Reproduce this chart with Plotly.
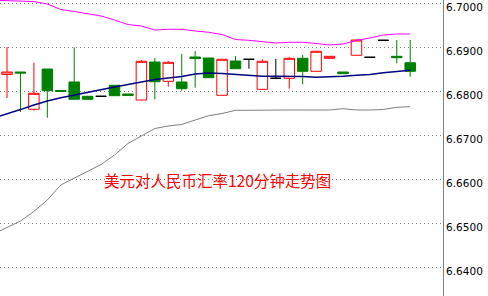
import plotly.graph_objects as go

# ---- data ----
candle_idx = list(range(31))
opens = [6.68379, 6.68435, 6.67590, 6.68503, 6.68016, 6.68209, 6.67884, 6.67884, 6.68134, 6.67937,
         6.67800, 6.68662, 6.68224, 6.68209, 6.68776, 6.68753, 6.67907, 6.68685, 6.68723, 6.68043,
         6.68293, 6.68293, 6.68746, 6.68451, 6.68746, 6.68435, 6.68814, 6.68769, 6.69154, 6.68791,
         6.68646]
closes = [6.68435, 6.68413, 6.67952, 6.68011, 6.67993, 6.67816, 6.67816, 6.67884, 6.67898, 6.67902,
          6.68678, 6.68215, 6.68655, 6.68057, 6.68741, 6.68306, 6.68723, 6.68510, 6.68723, 6.68678,
          6.68293, 6.68746, 6.68451, 6.68905, 6.68791, 6.68397, 6.69161, 6.68769, 6.69154, 6.68760,
          6.68451]
highs = [6.69002, 6.68435, 6.68646, 6.68503, 6.68016, 6.68995, 6.67884, 6.67884, 6.68134, 6.67937,
         6.68707, 6.68753, 6.68685, 6.68844, 6.68912, 6.68753, 6.68723, 6.68798, 6.68723, 6.68723,
         6.68730, 6.68776, 6.68821, 6.68905, 6.68791, 6.68435, 6.69172, 6.68769, 6.69154, 6.69161,
         6.69161]
lows = [6.67846, 6.67528, 6.67558, 6.67399, 6.67993, 6.67816, 6.67816, 6.67884, 6.67898, 6.67902,
        6.67800, 6.67816, 6.68102, 6.68011, 6.68079, 6.68306, 6.67907, 6.68510, 6.68510, 6.68043,
        6.68293, 6.68057, 6.68156, 6.68451, 6.68746, 6.68397, 6.68814, 6.68769, 6.69154, 6.68633,
        6.68329]

band_idx = list(range(-1, 31))
upper_band = [6.70062, 6.70057, 6.70050, 6.70034, 6.69977, 6.69853, 6.69807, 6.69762, 6.69705, 6.69615,
              6.69512, 6.69478, 6.69388, 6.69404, 6.69404, 6.69365, 6.69336, 6.69286, 6.69172, 6.69154,
              6.69132, 6.69093, 6.69109, 6.69109, 6.69082, 6.69048, 6.69070, 6.69150, 6.69206, 6.69274,
              6.69297, 6.69297]
middle_band = [6.67392, 6.67483, 6.67583, 6.67687, 6.67778, 6.67850, 6.67914, 6.67973, 6.68027, 6.68095,
               6.68152, 6.68209, 6.68265, 6.68299, 6.68333, 6.68390, 6.68413, 6.68401, 6.68379, 6.68361,
               6.68338, 6.68338, 6.68338, 6.68333, 6.68315, 6.68322, 6.68338, 6.68361, 6.68379, 6.68420,
               6.68447, 6.68474]
lower_band = [6.64762, 6.64909, 6.65057, 6.65272, 6.65533, 6.65873, 6.66032, 6.66190, 6.66338, 6.66553,
              6.66814, 6.66984, 6.67154, 6.67211, 6.67245, 6.67347, 6.67444, 6.67494, 6.67567, 6.67567,
              6.67574, 6.67574, 6.67574, 6.67574, 6.67574, 6.67574, 6.67603, 6.67574, 6.67574, 6.67585,
              6.67635, 6.67649]

tick_values = [6.64, 6.65, 6.66, 6.67, 6.68, 6.69, 6.70]
tick_labels = ["6.6400", "6.6500", "6.6600", "6.6700", "6.6800", "6.6900", "6.7000"]
title_text = "美元对人民币汇率120分钟走势图"

RED = "#FF0000"
GREEN = "#008000"

fig = go.Figure()

# Bollinger bands
fig.add_trace(go.Scatter(x=band_idx, y=lower_band, mode="lines",
                         line=dict(color="#808080", width=1), hoverinfo="skip"))
fig.add_trace(go.Scatter(x=band_idx, y=upper_band, mode="lines",
                         line=dict(color="#FF00FF", width=1), hoverinfo="skip"))
fig.add_trace(go.Scatter(x=band_idx, y=middle_band, mode="lines",
                         line=dict(color="#000080", width=1.5), hoverinfo="skip"))


def subset(cond):
    ids = [i for i in candle_idx if cond(opens[i], closes[i])]
    return dict(x=[candle_idx[i] for i in ids], open=[opens[i] for i in ids],
                high=[highs[i] for i in ids], low=[lows[i] for i in ids],
                close=[closes[i] for i in ids])


up = subset(lambda o, c: c > o)
down = subset(lambda o, c: c < o)
flat = subset(lambda o, c: c == o)

fig.add_trace(go.Candlestick(**up,
                             increasing=dict(line=dict(color=RED, width=1), fillcolor="white"),
                             decreasing=dict(line=dict(color=RED, width=1), fillcolor="white"),
                             hoverinfo="skip"))
fig.add_trace(go.Candlestick(**down,
                             increasing=dict(line=dict(color=GREEN, width=1), fillcolor=GREEN),
                             decreasing=dict(line=dict(color=GREEN, width=1), fillcolor=GREEN),
                             hoverinfo="skip"))
fig.add_trace(go.Candlestick(**flat,
                             increasing=dict(line=dict(color="black", width=1), fillcolor="black"),
                             decreasing=dict(line=dict(color="black", width=1), fillcolor="black"),
                             hoverinfo="skip"))

fig.add_annotation(text=title_text, xref="paper", yref="paper", x=0.4919, y=0.3919,
                   xanchor="center", yanchor="middle", showarrow=False,
                   font=dict(family="Noto Sans CJK SC", size=15.5, color=RED))

fig.update_layout(
    width=488, height=296,
    margin=dict(l=0, r=45, t=0, b=0),
    paper_bgcolor="white", plot_bgcolor="white",
    showlegend=False,
    boxgap=0.22, boxgroupgap=0,
    xaxis=dict(range=[-0.521, 32.44], showgrid=False, zeroline=False, showticklabels=False,
               showline=False, rangeslider=dict(visible=False), fixedrange=True),
    yaxis=dict(range=[6.63356, 6.70068], side="right", tickvals=tick_values, ticktext=tick_labels,
               showgrid=True, gridcolor="#808080", griddash="1px,3px", gridwidth=1,
               zeroline=False, showline=True, linecolor="#808080", linewidth=1,
               ticks="", ticklabelshift=4, ticklabeloverflow="allow",
               tickfont=dict(family="DejaVu Sans", size=10.5, color="black"), fixedrange=True),
)

fig.write_html("out.html", config={"displayModeBar": False})
